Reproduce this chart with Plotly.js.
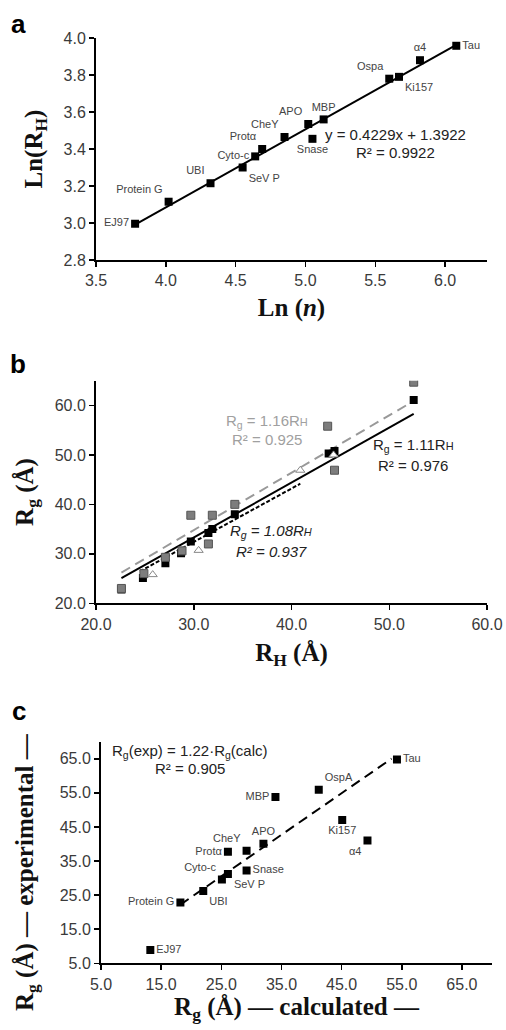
<!DOCTYPE html>
<html><head><meta charset="utf-8">
<script src="https://cdn.plot.ly/plotly-3.0.1.min.js"></script>
<style>html,body{margin:0;padding:0;background:#fff}#g{width:506px;height:1030px}</style>
</head><body><div id="g"></div>
<script>
// ---------- Panel a data: Ln(n) vs Ln(RH) ----------
const aNames = ['Tau','α4','Ki157','Ospa','MBP','APO','Snase','CheY','Protα','Cyto-c','SeV P','UBI','Protein G','EJ97'];
const aLnN  = [6.08, 5.82, 5.67, 5.60, 5.13, 5.02, 5.05, 4.85, 4.69, 4.64, 4.55, 4.32, 4.02, 3.78];
const aLnRH = [3.958,3.88, 3.79, 3.78, 3.56, 3.535,3.455,3.465,3.40, 3.36, 3.30, 3.215,3.115,2.996];
const aSlope = 0.4229, aIntercept = 1.3922;
const aFitX = [3.78, 6.08];

// ---------- Panel b data: RH vs Rg ----------
const bBlackRH = [22.6, 24.8, 27.1, 28.7, 29.7, 31.5, 31.9, 34.2, 43.8, 44.4, 52.5];
const bBlackRg = [22.8, 25.1, 28.1, 30.1, 32.5, 34.2, 35.0, 38.0, 50.3, 50.8, 61.1];
const bGrayRH  = [22.6, 24.9, 27.1, 28.8, 29.7, 31.9, 31.5, 34.2, 43.7, 44.4, 52.5];
const bGrayRg  = [23.0, 26.0, 29.3, 30.6, 37.8, 37.8, 32.0, 40.0, 55.8, 46.9, 64.7];
const bTriRH   = [25.8, 30.5, 40.9, 44.3];
const bTriRg   = [25.8, 30.7, 46.9, 50.0];
const bSlopeBlack = 1.11, bSlopeGray = 1.16, bSlopeTri = 1.08;
const bFitX = [22.6, 52.5];
const bTriFitX = [24.5, 40.9];

// ---------- Panel c data: Rg calculated vs experimental ----------
const cNames = ['Tau','OspA','MBP','Ki157','α4','APO','CheY','Protα','Snase','Cyto-c','SeV P','UBI','Protein G','EJ97'];
const cCalc  = [54.2, 41.2, 34.0, 45.1, 49.3, 32.0, 29.2, 26.1, 29.2, 25.1, 26.1, 22.0, 18.2, 13.2];
const cExp   = [64.8, 55.9, 53.8, 47.0, 41.0, 40.1, 38.0, 37.7, 32.2, 29.6, 31.2, 26.2, 22.8,  8.9];
const cSlope = 1.22;
const cFitX = [18.2, 53.3];

// ---------- layout helpers ----------
const W = 506, H = 1030;
const dx = (l, r) => [l / W, r / W];
const dy = (t, b) => [1 - b / H, 1 - t / H];
const TF = {family: 'Liberation Sans, Arial, sans-serif', size: 16, color: '#3a3a3a'};
const TITF = {family: 'Liberation Serif, Times New Roman, serif', size: 25, color: '#111'};
const LBL = {family: 'Liberation Sans, Arial, sans-serif', size: 11, color: '#444'};

function ax(domain, range, dtick, fmt, anchor, title, standoff) {
  return {domain, range, dtick, tick0: range[0], tickformat: fmt, anchor,
    showgrid: false, zeroline: false, showline: true, linecolor: '#000', linewidth: 2,
    ticks: 'outside', ticklen: 5, tickwidth: 1.5, tickcolor: '#000', tickfont: TF,
    title: {text: title, font: TITF, standoff: standoff}, fixedrange: true, automargin: false};
}

const aPos = ['middle right','top center','bottom right','top left','top center','top left','bottom center','top left','top left','middle left','bottom right','top left','top left','middle left'];
const cPos = ['middle right','top right','middle left','bottom center','bottom left','top center','top left','middle left','middle right','top left','bottom right','bottom right','middle left','middle right'];

const traces = [
  // panel a
  {x: aFitX, y: aFitX.map(v => aSlope * v + aIntercept), mode: 'lines', line: {color: '#000', width: 2}, xaxis: 'x', yaxis: 'y', hoverinfo: 'skip'},
  {x: aLnN, y: aLnRH, text: aNames, mode: 'markers+text', textposition: aPos, textfont: LBL,
   marker: {symbol: 'square', size: 8, color: '#000'}, xaxis: 'x', yaxis: 'y'},
  // panel b
  {x: bFitX, y: bFitX.map(v => bSlopeGray * v), mode: 'lines', line: {color: '#999', width: 2, dash: '10px,6px'}, xaxis: 'x2', yaxis: 'y2', hoverinfo: 'skip'},
  {x: bFitX, y: bFitX.map(v => bSlopeBlack * v), mode: 'lines', line: {color: '#000', width: 2}, xaxis: 'x2', yaxis: 'y2', hoverinfo: 'skip'},
  {x: bTriFitX, y: bTriFitX.map(v => bSlopeTri * v), mode: 'lines', line: {color: '#000', width: 2, dash: '4px,2px'}, xaxis: 'x2', yaxis: 'y2', hoverinfo: 'skip'},
  {x: bBlackRH, y: bBlackRg, mode: 'markers', marker: {symbol: 'square', size: 8, color: '#000'}, xaxis: 'x2', yaxis: 'y2'},
  {x: bGrayRH, y: bGrayRg, mode: 'markers', marker: {symbol: 'square', size: 8, color: '#7d7d7d', line: {color: '#555', width: 1}}, xaxis: 'x2', yaxis: 'y2'},
  {x: bTriRH, y: bTriRg, mode: 'markers', marker: {symbol: 'triangle-up', size: 8, color: '#fff', line: {color: '#888', width: 1}}, xaxis: 'x2', yaxis: 'y2'},
  // panel c
  {x: cFitX, y: cFitX.map(v => cSlope * v), mode: 'lines', line: {color: '#000', width: 2, dash: '10px,6px'}, xaxis: 'x3', yaxis: 'y3', hoverinfo: 'skip'},
  {x: cCalc, y: cExp, text: cNames, mode: 'markers+text', textposition: cPos, textfont: LBL,
   marker: {symbol: 'square', size: 8, color: '#000'}, xaxis: 'x3', yaxis: 'y3'}
];

const EQ = {family: 'Liberation Sans, Arial, sans-serif', size: 15, color: '#222'};
const paperAnn = (text, xp, yp, font, xanchor, angle) => ({text, x: xp / W, y: 1 - yp / H, xref: 'paper', yref: 'paper', xanchor: xanchor || 'center', yanchor: 'middle', showarrow: false, font, textangle: angle || 0});
const PL = {family: 'Liberation Sans, Arial, sans-serif', size: 26, color: '#000', weight: 'bold'};

const layout = {
  width: W, height: H, margin: {l: 0, r: 0, t: 0, b: 0}, showlegend: false,
  paper_bgcolor: '#fff', plot_bgcolor: '#fff',
  xaxis:  ax(dx(96, 487), [3.5, 6.3], 0.5, '.1f', 'y', '<b>Ln (<i>n</i>)</b>', 10),
  yaxis:  ax(dy(38, 260), [2.8, 4.0], 0.2, '.1f', 'x', '<b>Ln(R<sub>H</sub>)</b>', 14),
  xaxis2: ax(dx(96, 487), [20, 60], 10, '.1f', 'y2', '<b>R<sub>H</sub> (Å)</b>', 12),
  yaxis2: ax(dy(380.7, 603.3), [20, 65], 10, '.1f', 'x2', '<b>R<sub>g</sub> (Å)</b>', 14),
  xaxis3: ax(dx(101, 492), [5, 70], 10, '.1f', 'y3', '<b>R<sub>g</sub> (Å) — calculated —</b>', 4),
  yaxis3: ax(dy(741.7, 963.3), [5, 70], 10, '.1f', 'x3', '', 16),
  annotations: [
    paperAnn('a', 18, 24, PL), paperAnn('b', 18, 364, PL), paperAnn('c', 19, 711, PL),
    paperAnn('<b>R<sub>g</sub> (Å) — experimental —</b>', 26, 872, TITF, 'center', -90),
    paperAnn('y = 0.4229x + 1.3922', 395, 134, EQ), paperAnn('R² = 0.9922', 395, 152, EQ),
    paperAnn('R<sub>g</sub> = 1.16R<span style="font-size:11px">H</span>', 267, 421, Object.assign({}, EQ, {color: '#a0a0a0'})),
    paperAnn('R² = 0.925', 267, 439, Object.assign({}, EQ, {color: '#a0a0a0'})),
    paperAnn('R<sub>g</sub> = 1.11R<span style="font-size:11px">H</span>', 413, 445, EQ),
    paperAnn('R² = 0.976', 413, 465, EQ),
    paperAnn('<i>R<sub>g</sub> = 1.08R<span style="font-size:11px">H</span></i>', 271, 531, EQ),
    paperAnn('<i>R² = 0.937</i>', 271, 551, EQ),
    paperAnn('R<sub>g</sub>(exp) = 1.22·R<sub>g</sub>(calc)', 110, 751, EQ, 'left'),
    paperAnn('R² = 0.905', 190, 768, EQ)
  ]
};

Plotly.newPlot('g', traces, layout, {displayModeBar: false, staticPlot: true});
</script></body></html>
